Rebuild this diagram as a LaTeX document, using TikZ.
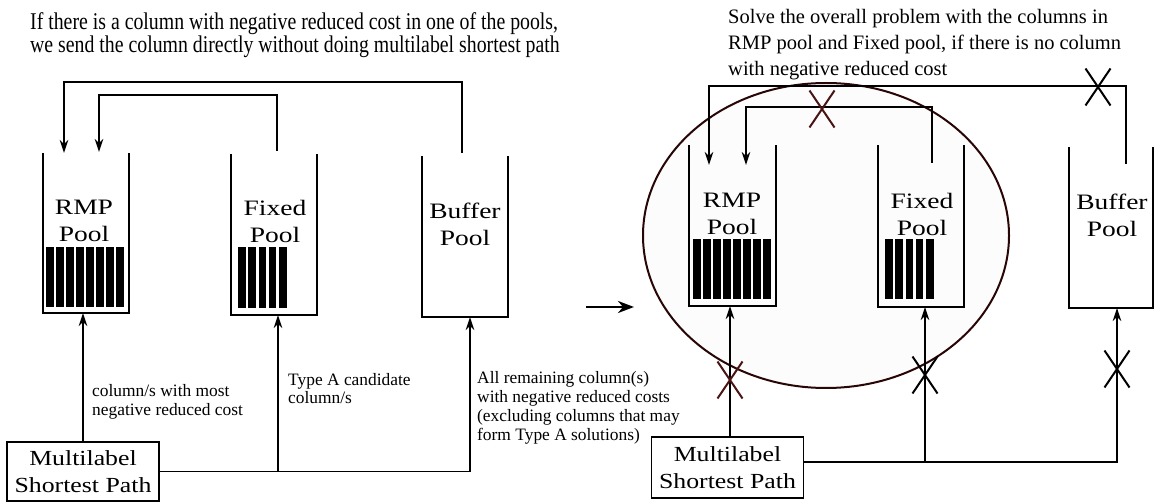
\documentclass[tikz,border=0pt]{standalone}
\usepackage{fontspec}
\setmainfont{Liberation Serif}
\usepackage{graphicx}
\usetikzlibrary{arrows.meta,calc}
\newcommand{\hstr}[2]{\scalebox{#1}[1]{#2}}
\definecolor{xred}{RGB}{75,20,20}
\definecolor{ellstroke}{RGB}{40,6,6}
\definecolor{ellfill}{RGB}{252,252,252}
\tikzset{
  poolbox/.style={minimum width=86pt,minimum height=160pt,inner sep=0pt,outer sep=0pt},
  wall/.style={line width=1.3pt},
  conn/.style={line width=1.8pt},
  connR/.style={line width=1.3pt},
  tip/.style={-{Stealth[length=13pt,width=8.5pt,inset=4pt]}},
  poollbl/.style={inner sep=0pt,align=center,anchor=base,font=\fontsize{22}{27}\selectfont},
  mlbox/.style={draw,line width=1.2pt,minimum width=152pt,inner sep=0pt,align=center,font=\fontsize{21.5}{27}\selectfont},
  small/.style={inner sep=0pt,align=left,anchor=base west,font=\fontsize{17.4}{18.5}\selectfont},
  xmark/.pic={\draw[line width=2pt] (-12.5,-18.5)--(12.5,18.5) (-12.5,18.5)--(12.5,-18.5);}
}
\begin{document}
\begin{tikzpicture}[x=1pt,y=-1pt]
\useasboundingbox (0,0) rectangle (1162,502);

% ---------- right-hand ellipse (behind) ----------
\draw[ellstroke,fill=ellfill,line width=2pt] (826,235.5) ellipse [x radius=183, y radius=152.5];

% ---------- top texts (anchor = baseline of last line) ----------
\node[inner sep=0pt,anchor=base west,align=left,font=\fontsize{24}{23.5}\selectfont] (tL) at (30,53)
 {\hstr{0.825}{If there is a column with negative reduced cost in one of the pools,}\\
  \hstr{0.825}{we send the column directly without doing multilabel shortest path}};
\node[inner sep=0pt,anchor=base west,align=left,font=\fontsize{20.5}{26}\selectfont] (tR) at (728,76)
 {Solve the overall problem with the columns in\\
  RMP pool and Fixed pool, if there is no column\\
  with negative reduced cost};

% ---------- left pools ----------
\node[poolbox,minimum width=86pt,minimum height=160pt] (rmpL) at (86,233) {};
\node[poolbox,minimum width=86pt,minimum height=161pt] (fixL) at (274,234.5) {};
\node[poolbox,minimum width=86pt,minimum height=161pt] (bufL) at (465,236.5) {};
\foreach \p in {rmpL,fixL,bufL}
  \draw[wall] (\p.north west) -- (\p.south west) -- (\p.south east) -- (\p.north east);
\node[poollbl] (rmpLt) at (84,242) {\hstr{1.25}{RMP}\\\hstr{1.25}{Pool}};
\node[poollbl] (fixLt) at (275,243) {\hstr{1.25}{Fixed}\\\hstr{1.25}{Pool}};
\node[poollbl] (bufLt) at (465,246) {\hstr{1.25}{Buffer}\\\hstr{1.25}{Pool}};
\foreach \i in {0,...,7} \fill (46+\i*10.07,247) rectangle ++(7.5,60);
\foreach \i in {0,...,4} \fill (238+\i*10.3,247) rectangle ++(7.5,61);

% ---------- right pools ----------
\node[poolbox,minimum width=87pt,minimum height=161pt] (rmpR) at (732.5,225.5) {};
\node[poolbox,minimum width=86pt,minimum height=162pt] (fixR) at (921,226) {};
\node[poolbox,minimum width=84pt,minimum height=161pt] (bufR) at (1111,227.5) {};
\foreach \p in {rmpR,fixR,bufR}
  \draw[wall,line width=1.2pt] (\p.north west) -- (\p.south west) -- (\p.south east) -- (\p.north east);
\node[poollbl] (rmpRt) at (732,235) {\hstr{1.25}{RMP}\\\hstr{1.25}{Pool}};
\node[poollbl] (fixRt) at (922,236) {\hstr{1.25}{Fixed}\\\hstr{1.25}{Pool}};
\node[poollbl] (bufRt) at (1112,237) {\hstr{1.25}{Buffer}\\\hstr{1.25}{Pool}};
\foreach \i in {0,...,7} \fill (693+\i*10.07,239) rectangle ++(7.5,60);
\foreach \i in {0,...,4} \fill (885+\i*10.3,239) rectangle ++(7.5,60);

% ---------- left connectors (top) ----------
\coordinate (bLtop) at (462,153);
\coordinate (fLtop) at (277,151);
\coordinate (rLin1) at (64,153);
\coordinate (rLin2) at (99,152);
\coordinate (topL1) at (263,82);
\coordinate (topL2) at (190,95);
\draw[conn,tip] (bLtop) |- (topL1) -| (rLin1);
\draw[conn,tip] (fLtop) |- (topL2) -| (rLin2);

% ---------- left bottom ----------
\node[mlbox,minimum height=59pt] (mlL) at (83,471.5) {\hstr{1.2}{Multilabel}\\\hstr{1.2}{Shortest Path}};
\coordinate (jL) at (278,471.5);
\coordinate (fLbot) at (278,315);
\coordinate (bLbot) at (470,317);
\draw[conn,tip] (mlL.north) -- (mlL.north |- rmpL.south);
\draw[conn] (mlL.east) -- (jL);
\draw[conn,tip] (jL) -- (fLbot);
\draw[conn,tip] (jL) -| (bLbot);
\node[small] (lab1) at (92,415) {column/s with most\\negative reduced cost};
\node[small] (lab2) at (288,404) {Type A candidate\\column/s};
\node[small,font=\fontsize{17.4}{19}\selectfont] (lab3) at (477,440) {All remaining column(s)\\with negative reduced costs\\(excluding columns that may\\form Type A solutions)};

% ---------- big arrow ----------
\coordinate (bigA) at (586,307);
\coordinate (bigB) at (634,307);
\draw[line width=2.6pt,-{Stealth[length=16pt,width=12pt,inset=5pt]}] (bigA) -- (bigB);

% ---------- right connectors (top) ----------
\coordinate (bRtop) at (1126,164);
\coordinate (fRtop) at (932,163);
\coordinate (rRin1) at (709,165);
\coordinate (rRin2) at (746,165);
\coordinate (topR1) at (900,86);
\coordinate (topR2) at (840,107);
\draw[connR,tip] (bRtop) |- (topR1) -| (rRin1);
\draw[connR,tip] (fRtop) |- (topR2) -| (rRin2);
\pic[xred] at (822,109) {xmark};
\pic at (1098,87) {xmark};

% ---------- right bottom ----------
\node[mlbox,minimum height=61pt] (mlR) at (727.5,467.5) {\hstr{1.2}{Multilabel}\\\hstr{1.2}{Shortest Path}};
\coordinate (rRbot) at (730,306);
\coordinate (rRst) at (730,437);
\coordinate (jR) at (925,462);
\coordinate (fRbot) at (925,307);
\coordinate (bRbot) at (1117,308);
\coordinate (mlRe) at (803,462);
\draw[connR,tip] (rRst) -- (rRbot);
\draw[connR] (mlRe) -- (jR);
\draw[connR,tip] (jR) -- (fRbot);
\draw[connR,tip] (jR) -| (bRbot);
\pic[xred] at (730,380) {xmark};
\pic at (925,375) {xmark};
\pic at (1117,369) {xmark};
\end{tikzpicture}
\end{document}
